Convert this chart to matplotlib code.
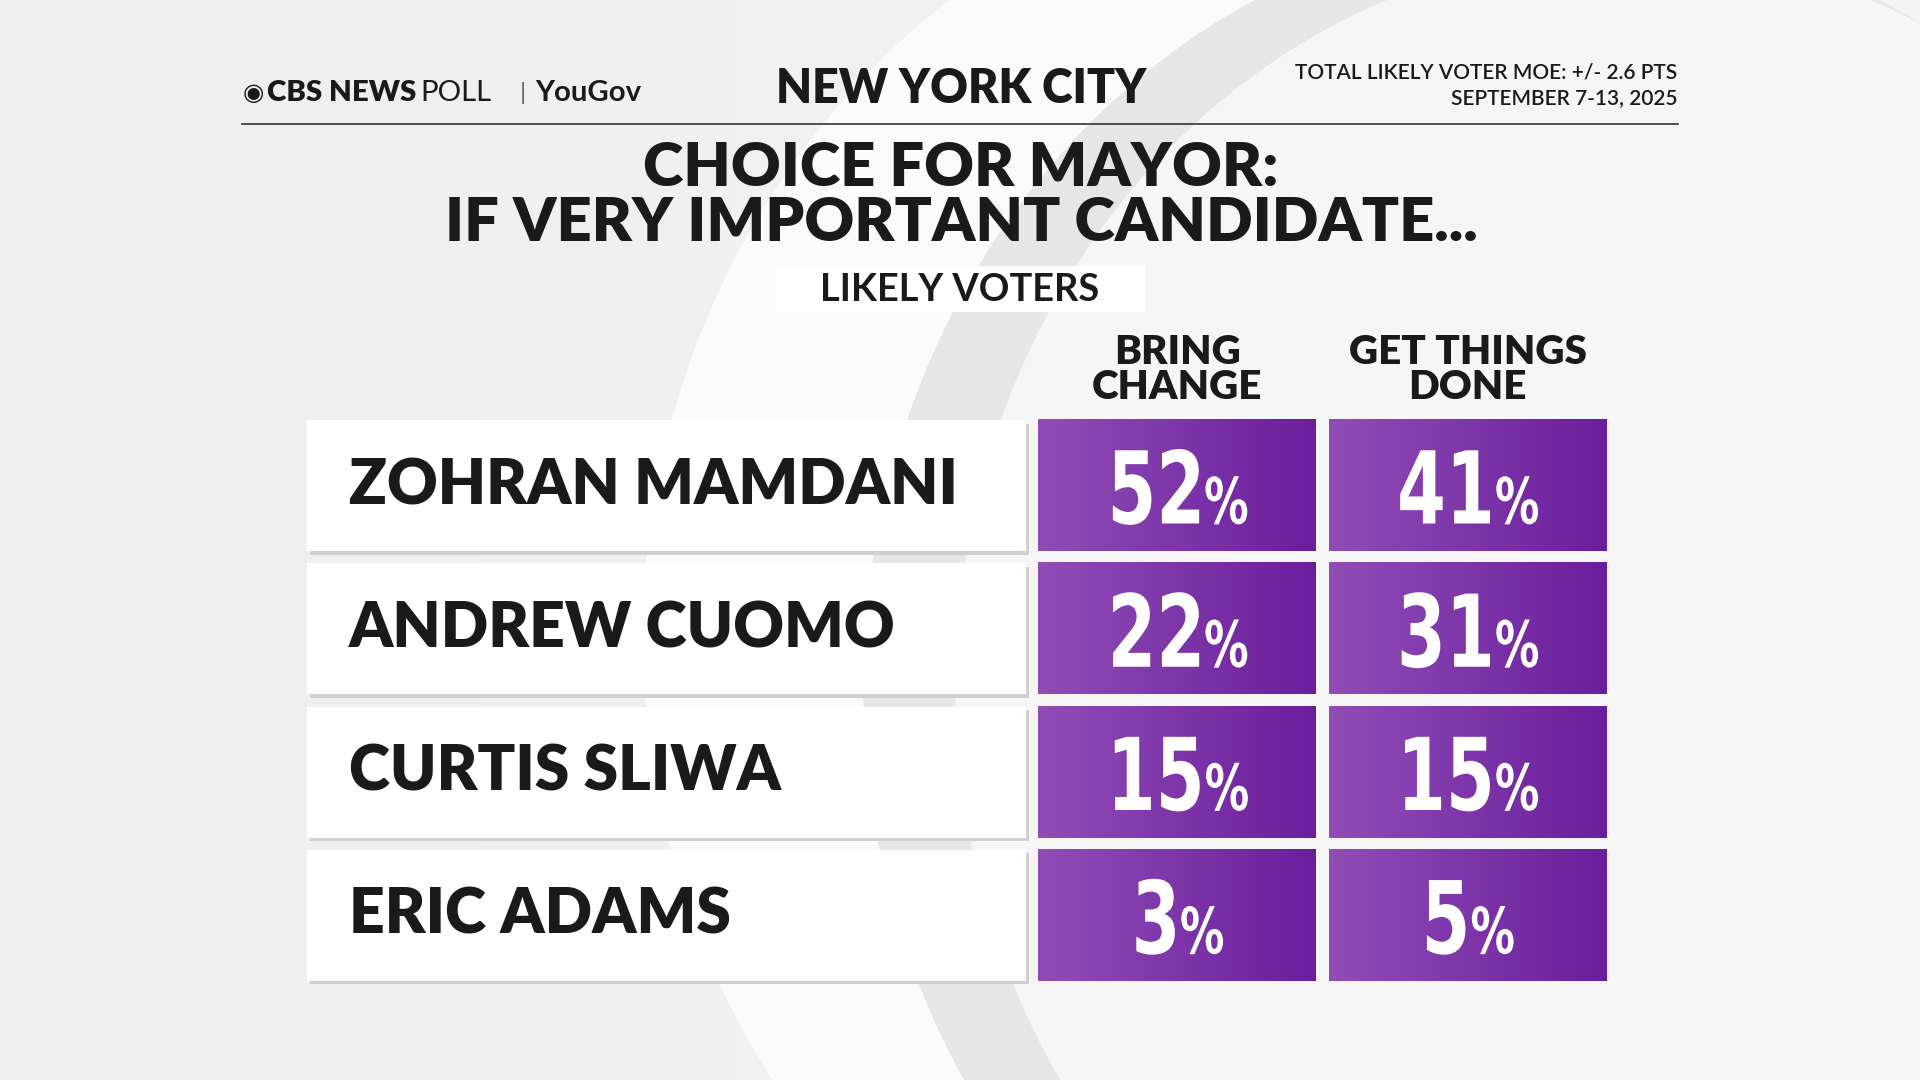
import matplotlib
matplotlib.use("Agg")
import matplotlib.pyplot as plt
import numpy as np
from matplotlib.patches import Rectangle, Ellipse, PathPatch
from matplotlib.colors import LinearSegmentedColormap
from matplotlib.textpath import TextPath
from matplotlib.font_manager import FontProperties
from matplotlib.transforms import Affine2D
from matplotlib import font_manager as fm

candidates = ["ZOHRAN MAMDANI", "ANDREW CUOMO", "CURTIS SLIWA", "ERIC ADAMS"]
columns = ["BRING\nCHANGE", "GET THINGS\nDONE"]
bring_change = [52, 22, 15, 3]
get_things_done = [41, 31, 15, 5]

names = {f.name for f in fm.fontManager.ttflist}
main = "Lato" if "Lato" in names else "DejaVu Sans"

W, H = 1568, 882
fig = plt.figure(figsize=(19.2, 10.8), dpi=100)
ax = fig.add_axes([0, 0, 1, 1])
ax.set_xlim(0, W); ax.set_ylim(H, 0); ax.axis("off")
S = 1920 / W * 0.72  # ref px -> pt

# background
g = np.linspace(0, 1, 200)
bg = np.outer(np.ones(200), 0.93 + 0.03 * g)
ax.imshow(bg, extent=[0, W, H, 0], cmap="gray", vmin=0, vmax=1, aspect="auto", zorder=0)
ax.add_patch(Ellipse((1150, 520), 1250, 1300, facecolor="#fbfbfb", edgecolor="none", zorder=1))
ax.add_patch(Ellipse((1280, 560), 1150, 1250, facecolor="#e6e6e6", edgecolor="none", zorder=1))
ax.add_patch(Ellipse((1330, 560), 1100, 1200, facecolor="#f6f6f6", edgecolor="none", zorder=1))

def t(x, y, s, size, **kw):
    kw.setdefault("family", main); kw.setdefault("color", "#1a1a1a")
    kw.setdefault("weight", "heavy"); kw.setdefault("va", "center"); kw.setdefault("ha", "center")
    ax.text(x, y, s, fontsize=size * S, zorder=5, **kw)

# header
t(198, 76, "◉", 20, ha="left", family="DejaVu Sans", weight="bold")
t(218, 76, "CBS NEWS", 24, ha="left", weight="heavy")
t(343, 76, "POLL", 24, ha="left", weight="normal")
t(427, 76, "|", 20, ha="center", weight="normal", color="#666")
t(437, 76, "YouGov", 24, ha="left", weight="bold")
t(785, 73, "NEW YORK CITY", 38)
t(1370, 59, "TOTAL LIKELY VOTER MOE: +/- 2.6 PTS", 17, ha="right", weight="semibold")
t(1370, 80, "SEPTEMBER 7-13, 2025", 17, ha="right", weight="semibold")
ax.plot([198, 1370], [101, 101], color="#333", lw=1.2, zorder=5)

t(785, 137, "CHOICE FOR MAYOR:", 50)
t(785, 182, "IF VERY IMPORTANT CANDIDATE...", 50)
ax.add_patch(Rectangle((632, 217), 303, 38, facecolor="white", edgecolor="none", zorder=4))
t(784, 237, "LIKELY VOTERS", 31, weight="bold")

col_x = [(848, 1075), (1085, 1312)]
for (x0, x1), lab in zip(col_x, columns):
    t((x0 + x1) / 2, 302, lab, 33, weight="heavy", linespacing=0.95)

fp = FontProperties(family="DejaVu Sans", weight="bold")
SX = 0.7
def narrow_text(s, size):
    p = TextPath((0, 0), s, size=size, prop=fp)
    return p, p.get_extents().x1 * SX

grad = np.linspace(0, 1, 256).reshape(1, -1)
cmap = LinearSegmentedColormap.from_list("p", ["#904db6", "#6b1e9c"])
row_tops = [343, 460, 577, 694]
rh = 107
for i, name in enumerate(candidates):
    y0 = row_tops[i]
    ax.add_patch(Rectangle((253, y0 + 3), 587, rh, facecolor="#cfcfcf", edgecolor="none", zorder=2))
    ax.add_patch(Rectangle((251, y0), 587, rh, facecolor="white", edgecolor="none", zorder=3))
    t(285, y0 + rh / 2, name, 51, ha="left")
    for (x0, x1), vals in zip(col_x, [bring_change, get_things_done]):
        ax.imshow(grad, extent=[x0, x1, y0 + rh, y0], cmap=cmap, aspect="auto", zorder=3)
        cx = (x0 + x1) / 2
        np_, nw = narrow_text(str(vals[i]), 82)
        pp, pw = narrow_text("%", 52)
        total = nw + 4 + pw
        base = y0 + rh / 2 + 31
        xs = cx - total / 2
        for path, x in [(np_, xs), (pp, xs + nw + 4)]:
            tr = Affine2D().scale(SX, -1).translate(x, base)
            ax.add_patch(PathPatch(tr.transform_path(path), facecolor="white",
                                   edgecolor="none", zorder=5))

fig.savefig("out.png", dpi=100)
